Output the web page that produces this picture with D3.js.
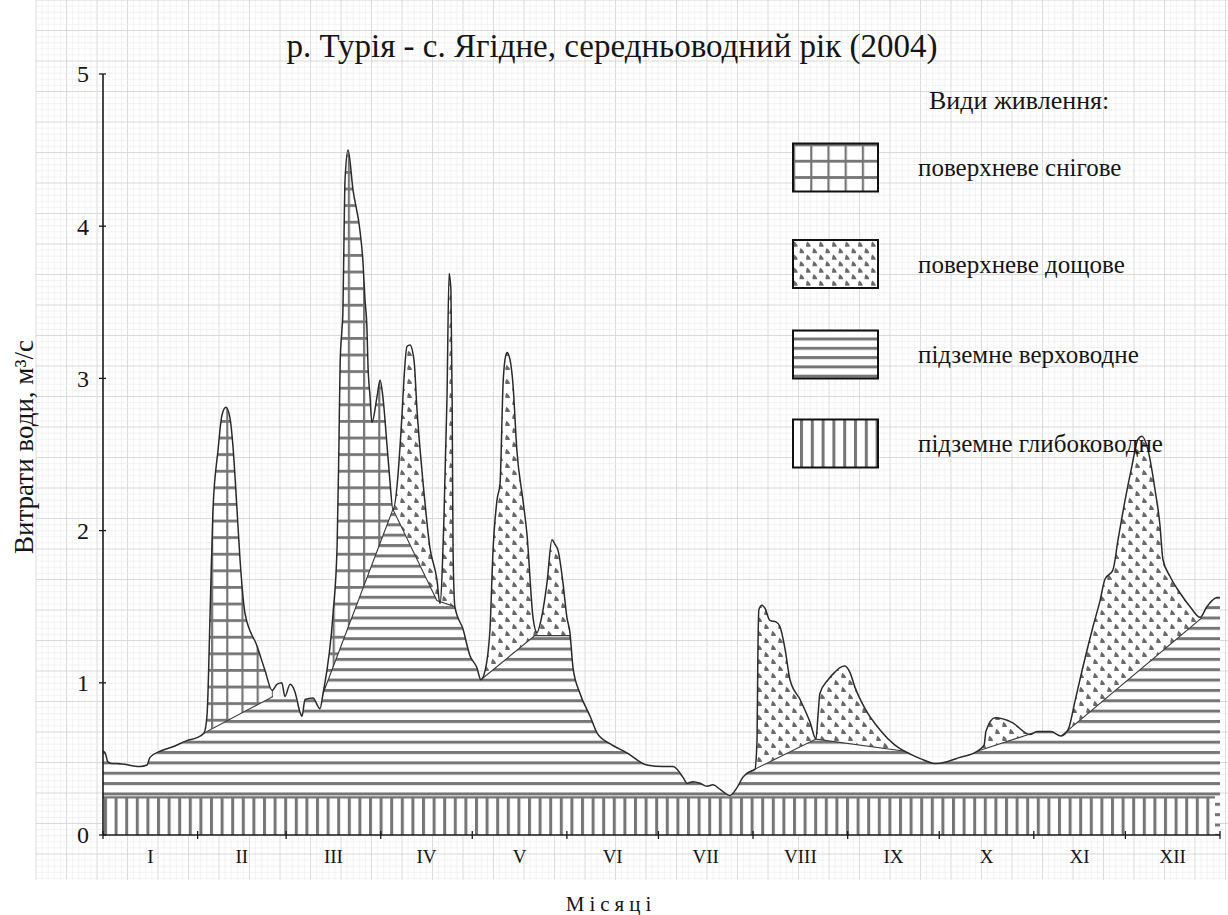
<!DOCTYPE html>
<html>
<head>
<meta charset="utf-8">
<script src="https://cdn.jsdelivr.net/npm/d3@7"></script>
<style>
  body { margin: 0; background: #fff; }
  svg { display: block; }
</style>
</head>
<body>
<svg id="chart" width="1228" height="915"></svg>
<script>
// ---- texts ----
const chartTitle = "р. Турія - с. Ягідне, середньоводний рік (2004)";
const yTitle = "Витрати води, м³/с";
const xTitle = "Місяці";
const legendTitle = "Види живлення:";
const legendLabels = ["поверхневе снігове", "поверхневе дощове", "підземне верховодне", "підземне глибоководне"];

// ---- axes ----
const months = ["I", "II", "III", "IV", "V", "VI", "VII", "VIII", "IX", "X", "XI", "XII"];
const monthStart = [0, 31, 60, 91, 121, 152, 182, 213, 244, 274, 305, 335, 366];
const yTicks = [0, 1, 2, 3, 4, 5];

// ---- total discharge hydrograph (day of year, m³/s) ----
const flowDay = [0, 0.7, 1.6, 2.9, 4.6, 12.1, 14.4, 15.4, 18.7, 22.9, 27.5, 30.8, 33.1, 34.1, 35.1, 36.0, 37.7, 39.0, 40.3, 41.6,
  42.6, 43.9, 44.9, 46.5, 50.5, 53.1, 55.4, 57.0, 58.6, 59.6, 61.3, 62.9, 64.5, 65.2, 66.2, 68.8, 71.1, 72.1, 75.4, 76.7,
  77.3, 77.7, 78.3, 78.6, 79.0, 79.3, 80.3, 81.9, 84.2, 85.2, 85.8, 86.5, 86.8, 87.5, 88.1, 89.8, 90.8, 91.7, 93.1, 94.0,
  95.0, 98.0, 98.6, 99.6, 100.6, 101.9, 102.9, 103.9, 104.8, 107.1, 109.4, 110.4, 111.7, 112.7, 113.4, 114.0, 114.4, 114.7, 115.3, 118.0,
  120.2, 122.5, 123.8, 125.2, 126.8, 127.8, 129.1, 130.1, 131.1, 131.7, 132.4, 133.4, 134.3, 135.6, 137.6, 138.9, 140.9, 142.2, 143.5, 145.5,
  147.1, 148.1, 149.1, 150.7, 152.0, 153.0, 154.0, 156.3, 159.6, 161.9, 166.1, 171.7, 178.2, 183.5, 186.8, 190.0, 191.4, 193.3, 195.6, 197.9,
  199.9, 202.2, 205.4, 207.7, 209.7, 211.3, 213.6, 214.3, 214.6, 214.9, 215.9, 216.9, 218.5, 220.5, 221.8, 223.5, 225.1, 228.4, 231.7, 233.6,
  234.3, 234.9, 237.6, 239.8, 241.5, 243.1, 244.7, 246.4, 249.7, 254.6, 259.5, 264.7, 268.0, 272.6, 276.2, 280.8, 286.4, 288.7, 289.3, 292.3,
  297.8, 303.7, 306.0, 310.6, 313.9, 316.2, 318.5, 320.1, 324.4, 326.7, 328.3, 330.9, 332.6, 334.9, 337.2, 339.1, 340.4, 342.4, 344.7, 346.3,
  347.3, 349.6, 352.9, 356.2, 359.5, 361.7, 363.4, 365.0, 366.0];
const flowQ = [0.55, 0.54, 0.48, 0.47, 0.47, 0.45, 0.46, 0.51, 0.55, 0.58, 0.62, 0.64, 0.67, 0.79, 1.46, 2.12, 2.53, 2.76, 2.81, 2.74,
  2.55, 2.14, 1.81, 1.46, 1.24, 1.08, 0.95, 0.99, 1.00, 0.91, 0.99, 0.94, 0.81, 0.78, 0.89, 0.90, 0.83, 0.93, 1.46, 1.89,
  2.55, 3.10, 3.32, 3.43, 3.97, 4.30, 4.50, 4.24, 3.97, 3.76, 3.53, 3.32, 3.10, 2.88, 2.71, 2.88, 2.99, 2.88, 2.55, 2.33,
  2.14, 2.77, 2.99, 3.21, 3.22, 3.12, 2.79, 2.53, 2.33, 1.89, 1.68, 1.52, 2.07, 2.86, 3.69, 3.58, 2.86, 1.87, 1.50, 1.35,
  1.18, 1.10, 1.02, 1.08, 1.35, 1.87, 2.20, 2.31, 2.97, 3.12, 3.17, 3.12, 2.97, 2.53, 2.20, 1.98, 1.43, 1.33, 1.41, 1.66,
  1.94, 1.91, 1.87, 1.66, 1.43, 1.33, 1.10, 0.93, 0.78, 0.67, 0.60, 0.54, 0.46, 0.45, 0.45, 0.38, 0.34, 0.35, 0.34, 0.32,
  0.33, 0.30, 0.26, 0.31, 0.38, 0.41, 0.43, 0.62, 1.22, 1.48, 1.51, 1.49, 1.41, 1.40, 1.37, 1.22, 1.02, 0.89, 0.74, 0.63,
  0.79, 0.93, 1.02, 1.07, 1.10, 1.11, 1.07, 0.97, 0.83, 0.69, 0.59, 0.53, 0.50, 0.47, 0.48, 0.51, 0.55, 0.59, 0.68, 0.77,
  0.74, 0.66, 0.68, 0.68, 0.65, 0.69, 0.88, 1.02, 1.37, 1.54, 1.68, 1.74, 1.94, 2.20, 2.43, 2.60, 2.62, 2.53, 2.27, 2.04,
  1.81, 1.70, 1.59, 1.50, 1.43, 1.50, 1.54, 1.56, 1.56];

// ---- upper groundwater (верховодне) boundary ----
const groundDay = [0, 0.7, 1.6, 2.9, 4.6, 12.1, 14.4, 15.4, 18.7, 22.9, 27.5, 30.8, 33.1, 55.7, 62.9, 64.5, 65.2, 66.2, 68.8, 71.1,
  72.1, 95.0, 109.4, 115.3, 118.0, 120.2, 122.5, 123.8, 141.5, 153.0, 154.0, 156.3, 159.6, 161.9, 166.1, 171.7, 178.2, 183.5, 186.8, 190.0,
  191.4, 193.3, 195.6, 197.9, 199.9, 202.2, 205.4, 207.7, 209.7, 211.3, 233.6, 262.8, 264.7, 268.0, 272.6, 276.2, 280.8, 286.4, 304.7, 306.0,
  310.6, 313.9, 360.2, 361.7, 363.4, 365.0, 366.0];
const groundQ = [0.55, 0.54, 0.48, 0.47, 0.47, 0.45, 0.46, 0.51, 0.55, 0.58, 0.62, 0.64, 0.67, 0.91, 0.91, 0.81, 0.78, 0.89, 0.90, 0.83,
  0.93, 2.14, 1.54, 1.50, 1.35, 1.18, 1.10, 1.02, 1.31, 1.31, 1.10, 0.93, 0.78, 0.67, 0.60, 0.54, 0.46, 0.45, 0.45, 0.38,
  0.34, 0.35, 0.34, 0.32, 0.33, 0.30, 0.26, 0.31, 0.38, 0.41, 0.63, 0.55, 0.53, 0.50, 0.47, 0.48, 0.51, 0.55, 0.67, 0.68,
  0.68, 0.65, 1.43, 1.50, 1.54, 1.56, 1.56];

// ---- deep groundwater (глибоководне) base flow ----
const deepQ = 0.25;

// ---- periods of surface runoff (day ranges) ----
const snowPeriods = [[33.1, 55.7], [72.1, 95.0]];
const rainPeriods = [[95.0, 115.3], [123.8, 153.0], [211.3, 262.8], [286.4, 304.7], [313.9, 360.2]];

const W = 1228, H = 915;
const SERIF = "'Liberation Serif', 'Times New Roman', 'DejaVu Serif', serif";
const INK = "#151515";
const svg = d3.select("#chart");
const defs = svg.append("defs");

const x = d3.scaleLinear().domain([0, 366]).range([103, 1220]);
const y = d3.scaleLinear().domain([0, 5]).range([835, 74]);

const flow = flowDay.map((d, i) => ({ d, q: flowQ[i] }));
const ground = groundDay.map((d, i) => ({ d, q: groundQ[i] }));

const HATCH = "#767676";

// ---- hatch patterns ----
function patGrid(id, w, h, ox, oy) {
  const p = defs.append("pattern").attr("id", id).attr("patternUnits", "userSpaceOnUse")
    .attr("x", ox).attr("y", oy).attr("width", w).attr("height", h);
  p.append("rect").attr("width", w).attr("height", h).attr("fill", "#fff");
  p.append("rect").attr("x", 0).attr("y", 0).attr("width", 2.2).attr("height", h).attr("fill", HATCH);
  p.append("rect").attr("x", 0).attr("y", 0).attr("width", w).attr("height", 2.8).attr("fill", HATCH);
}
function patDrops(id, w, h, ox, oy) {
  const p = defs.append("pattern").attr("id", id).attr("patternUnits", "userSpaceOnUse")
    .attr("x", ox).attr("y", oy).attr("width", w).attr("height", h);
  p.append("rect").attr("width", w).attr("height", h).attr("fill", "#fff");
  const drop = "M-1.2,-2.8 Q2.6,-0.2 2.4,2.6 L-2.2,2.6 Q-2.4,0 -1.2,-2.8 Z";
  p.append("path").attr("d", drop).attr("transform", `translate(${w * 0.25},${h * 0.25})`).attr("fill", "#6a6a6a");
  p.append("path").attr("d", drop).attr("transform", `translate(${w * 0.75},${h * 0.75})`).attr("fill", "#6a6a6a");
}
function patH(id, h, oy) {
  const p = defs.append("pattern").attr("id", id).attr("patternUnits", "userSpaceOnUse")
    .attr("x", 0).attr("y", oy).attr("width", 40).attr("height", h);
  p.append("rect").attr("width", 40).attr("height", h).attr("fill", "#fff");
  p.append("rect").attr("x", 0).attr("y", 0).attr("width", 40).attr("height", 3).attr("fill", HATCH);
}
function patV(id, w, ox) {
  const p = defs.append("pattern").attr("id", id).attr("patternUnits", "userSpaceOnUse")
    .attr("x", ox).attr("y", 0).attr("width", w).attr("height", 40);
  p.append("rect").attr("width", w).attr("height", 40).attr("fill", "#fff");
  p.append("rect").attr("x", 0).attr("y", 0).attr("width", 3).attr("height", 40).attr("fill", HATCH);
}
patGrid("pSnow", 15.2, 16.6, 211, 420);
patDrops("pRain", 14, 14, 0, 0);
patH("pUpper", 10.35, y(deepQ) - 4.5);
patV("pDeep", 10.6, 104);
// legend swatches
patGrid("lSnow", 17.2, 16.3, 793, 143.5);
patDrops("lRain", 13, 13, 792, 241);
patH("lUpper", 9.3, 337.5);
patV("lDeep", 10.8, 800);

// ---- graph-paper background ----
const paper = svg.append("g");
const px0 = 36, px1 = W, py0 = 0, py1 = 880, step = 6.1;
for (let i = 0, gx = px0; gx <= px1; i++, gx += step) {
  paper.append("line").attr("x1", gx).attr("x2", gx).attr("y1", py0).attr("y2", py1)
    .attr("stroke", i % 5 === 0 ? "#d6d6d6" : "#ebebeb").attr("stroke-width", i % 5 === 0 ? 0.9 : 0.6);
}
for (let i = 0, gy = py0; gy <= py1; i++, gy += step) {
  paper.append("line").attr("x1", px0).attr("x2", px1).attr("y1", gy).attr("y2", gy)
    .attr("stroke", i % 5 === 0 ? "#d6d6d6" : "#ebebeb").attr("stroke-width", i % 5 === 0 ? 0.9 : 0.6);
}

// ---- shape generators ----
const lineFlow = d3.line().x(p => x(p.d)).y(p => y(p.q)).curve(d3.curveMonotoneX);
const areaFlow = d3.area().x(p => x(p.d)).y0(y(0)).y1(p => y(p.q)).curve(d3.curveMonotoneX);
const areaGround = d3.area().x(p => x(p.d)).y0(y(0)).y1(p => y(p.q)).curve(d3.curveLinear);
const areaAboveGround = d3.area().x(p => x(p.d)).y0(0).y1(p => y(p.q)).curve(d3.curveLinear);
const lineGround = d3.line().x(p => x(p.d)).y(p => y(p.q)).curve(d3.curveLinear);

defs.append("clipPath").attr("id", "underFlow").append("path").attr("d", areaFlow(flow));
defs.append("clipPath").attr("id", "aboveGround").append("path").attr("d", areaAboveGround(ground));
const surfClip = defs.append("clipPath").attr("id", "surface");
snowPeriods.concat(rainPeriods).forEach(([a, b]) => {
  surfClip.append("rect").attr("x", x(a)).attr("y", 0).attr("width", x(b) - x(a)).attr("height", H);
});

// upper groundwater flow: under the boundary and under the hydrograph
svg.append("g").attr("clip-path", "url(#underFlow)")
  .append("path").attr("d", areaGround(ground)).attr("fill", "url(#pUpper)");

// surface runoff: between the groundwater boundary and the hydrograph
function surface(periods, fill, tag) {
  periods.forEach(([a, b], i) => {
    const cid = `${tag}${i}`;
    defs.append("clipPath").attr("id", cid).append("rect")
      .attr("x", x(a)).attr("y", 0).attr("width", x(b) - x(a)).attr("height", H);
    svg.append("g").attr("clip-path", `url(#${cid})`)
      .append("g").attr("clip-path", "url(#aboveGround)")
      .append("path").attr("d", areaFlow(flow)).attr("fill", fill);
  });
}
surface(snowPeriods, "url(#pSnow)", "cs");
surface(rainPeriods, "url(#pRain)", "cr");

// deep groundwater band
svg.append("rect").attr("x", x(0)).attr("y", y(deepQ)).attr("width", x(366) - x(0) - 5)
  .attr("height", y(0) - y(deepQ)).attr("fill", "url(#pDeep)");
svg.append("line").attr("x1", x(0)).attr("x2", x(366) - 5).attr("y1", y(deepQ) + 0.5).attr("y2", y(deepQ) + 0.5)
  .attr("stroke", HATCH).attr("stroke-width", 2.2);

// dividing line between surface and groundwater
svg.append("g").attr("clip-path", "url(#surface)")
  .append("path").attr("d", lineGround(ground)).attr("fill", "none").attr("stroke", "#3a3a3a").attr("stroke-width", 1.1);

// hydrograph outline
svg.append("path").attr("d", lineFlow(flow)).attr("fill", "none")
  .attr("stroke", "#2a2a2a").attr("stroke-width", 1.5).attr("stroke-linejoin", "round");

// ---- axes ----
const ax = svg.append("g").attr("stroke", "#1a1a1a");
ax.append("line").attr("x1", x(0)).attr("x2", x(0)).attr("y1", y(5)).attr("y2", y(0)).attr("stroke-width", 1.6);
ax.append("line").attr("x1", x(0)).attr("x2", x(366)).attr("y1", y(0)).attr("y2", y(0)).attr("stroke-width", 1.6);
yTicks.forEach(t => {
  ax.append("line").attr("x1", x(0) - 4).attr("x2", x(0) + 3).attr("y1", y(t)).attr("y2", y(t)).attr("stroke-width", 1.3);
});
monthStart.forEach(d => {
  ax.append("line").attr("x1", x(d)).attr("x2", x(d)).attr("y1", y(0) - 4).attr("y2", y(0) + 4).attr("stroke-width", 1.3);
});

svg.append("g").selectAll("text").data(yTicks).join("text")
  .attr("font-family", SERIF).attr("fill", INK)
  .attr("x", 83).attr("y", t => y(t)).attr("dy", "0.35em").attr("text-anchor", "middle")
  .attr("font-size", 24).text(t => t);

svg.append("g").selectAll("text").data(months).join("text")
  .attr("font-family", SERIF).attr("fill", INK)
  .attr("x", (m, i) => x((monthStart[i] + monthStart[i + 1]) / 2))
  .attr("y", 856).attr("dy", "0.35em").attr("text-anchor", "middle")
  .attr("font-size", 19).text(m => m);

// ---- titles ----
svg.append("text").attr("font-family", SERIF).attr("fill", INK)
  .attr("x", 612).attr("y", 57).attr("text-anchor", "middle")
  .attr("font-size", 33).text(chartTitle);
svg.append("text").attr("font-family", SERIF).attr("fill", INK)
  .attr("transform", "translate(24,447) rotate(-90)").attr("dy", "0.35em").attr("text-anchor", "middle")
  .attr("font-size", 27).text(yTitle);
svg.append("text").attr("font-family", SERIF).attr("fill", INK)
  .attr("x", 611).attr("y", 911).attr("text-anchor", "middle")
  .attr("font-size", 21).attr("letter-spacing", 5).text(xTitle);

// ---- legend ----
svg.append("text").attr("font-family", SERIF).attr("fill", INK)
  .attr("x", 929).attr("y", 100).attr("dy", "0.35em").attr("font-size", 26).text(legendTitle);
const legendFills = ["url(#lSnow)", "url(#lRain)", "url(#lUpper)", "url(#lDeep)"];
const legendY = [143.5, 240, 330.5, 419.5];
legendLabels.forEach((lab, i) => {
  svg.append("rect").attr("x", 793).attr("y", legendY[i]).attr("width", 85).attr("height", 48)
    .attr("fill", legendFills[i]).attr("stroke", "#111").attr("stroke-width", 2);
  svg.append("text").attr("font-family", SERIF).attr("fill", INK)
    .attr("x", 918).attr("y", legendY[i] + 24).attr("dy", "0.35em")
    .attr("font-size", 25).text(lab);
});
</script>
</body>
</html>
